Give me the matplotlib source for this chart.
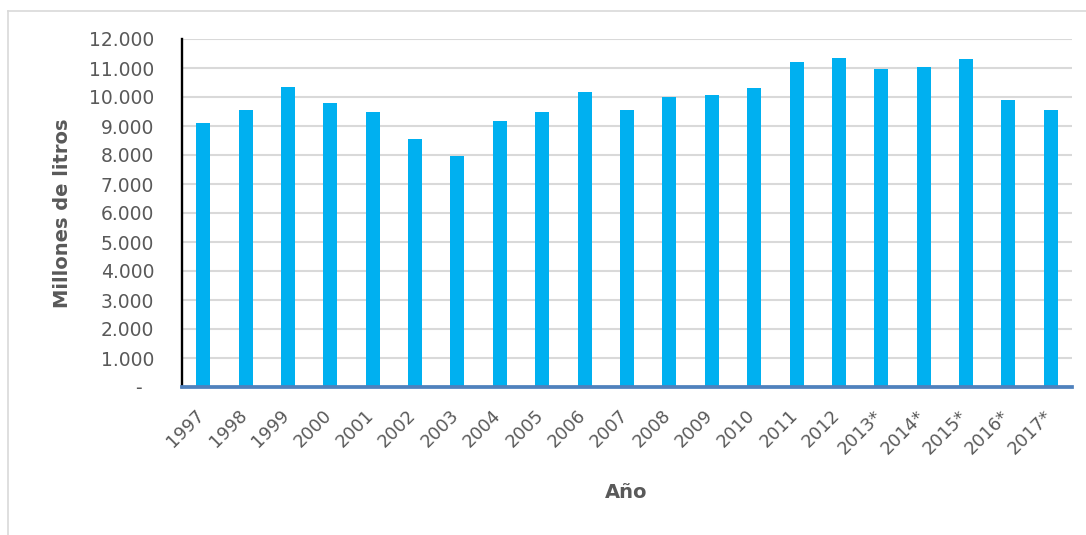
import matplotlib
matplotlib.use("Agg")
import matplotlib.pyplot as plt
from matplotlib.ticker import FuncFormatter
from matplotlib.lines import Line2D
from matplotlib.transforms import ScaledTranslation

years = ["1997", "1998", "1999", "2000", "2001", "2002", "2003", "2004", "2005",
         "2006", "2007", "2008", "2009", "2010", "2011", "2012", "2013*",
         "2014*", "2015*", "2016*", "2017*"]
values = [9090, 9560, 10330, 9800, 9490, 8540, 7950, 9180, 9490,
          10170, 9540, 10010, 10055, 10310, 11215, 11345, 10975,
          11020, 11310, 9905, 9540]
yticks = list(range(0, 12001, 1000))

W, H = 1086, 535
fig = plt.figure(figsize=(W / 100, H / 100), dpi=100)
ax = fig.add_axes([182 / W, 1 - 387 / H, (1072 - 182) / W, (387 - 39) / H])

x = list(range(len(years)))
ax.bar(x, values, width=0.33, color="#00B0F0", zorder=3)

ax.set_xlim(-0.5, len(years) - 0.5)
ax.set_ylim(0, 12000)
ax.set_yticks(yticks)


def fmt(v, pos):
    if v == 0:
        return "-  "
    return f"{int(v):,}".replace(",", ".")


ax.yaxis.set_major_formatter(FuncFormatter(fmt))
ax.grid(axis="y", color="#D9D9D9", linewidth=1.5, zorder=0)
ax.set_axisbelow(True)

ax.set_xticks(x)
ax.set_xticklabels(years, rotation=45, ha="right", va="top",
                   rotation_mode="anchor")
ax.tick_params(axis="x", length=0, pad=14, labelsize=12.8, labelcolor="#595959")
ax.tick_params(axis="y", length=0, pad=20, labelsize=13.5, labelcolor="#595959")

shift = ScaledTranslation(-8 / 100, 0, fig.dpi_scale_trans)
for lab in ax.get_xticklabels():
    lab.set_transform(lab.get_transform() + shift)

for s in ["top", "right"]:
    ax.spines[s].set_visible(False)
ax.spines["left"].set_color("black")
ax.spines["left"].set_linewidth(1.7)
ax.spines["bottom"].set_color("#4F81BD")
ax.spines["bottom"].set_linewidth(2.7)
ax.spines["bottom"].set_zorder(4)

fig.text(62 / W, 1 - 213 / H, "Millones de litros", rotation=90,
         ha="center", va="center", fontsize=14, fontweight="bold",
         color="#595959")
fig.text(626 / W, 1 - 492 / H, "Año", ha="center", va="center",
         fontsize=14, fontweight="bold", color="#595959")

# chart area border (top and left)
fig.add_artist(Line2D([8 / W, 8 / W], [0, 1 - 10.5 / H], transform=fig.transFigure,
                      color="#D9D9D9", linewidth=1.2))
fig.add_artist(Line2D([8 / W, 1], [1 - 10.5 / H, 1 - 10.5 / H], transform=fig.transFigure,
                      color="#D9D9D9", linewidth=1.2))

fig.savefig("out.png", dpi=100)
